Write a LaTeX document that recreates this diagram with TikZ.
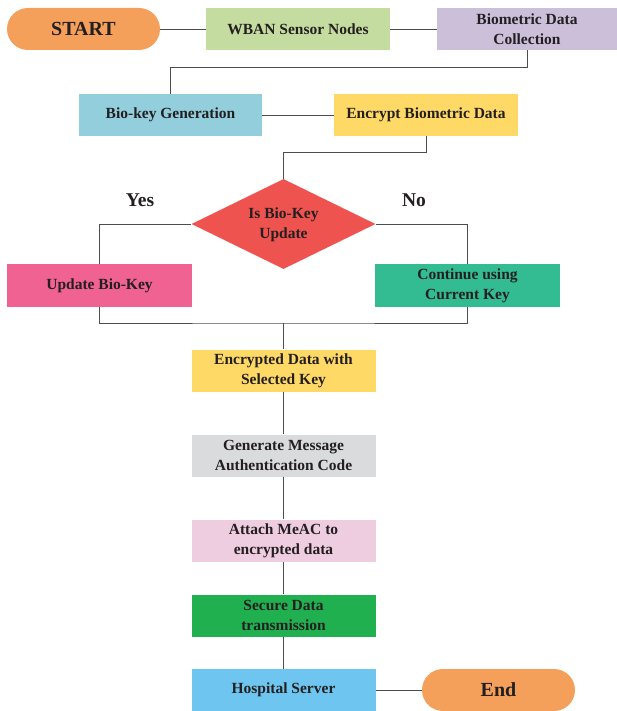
\documentclass[tikz,border=0pt]{standalone}
\usepackage{fontspec}
\setmainfont{Liberation Serif}
\usetikzlibrary{shapes.geometric}
\definecolor{txt}{HTML}{231F20}
\definecolor{ln}{HTML}{4D4D4D}
\definecolor{corange}{HTML}{F4A05A}
\definecolor{cgreenl}{HTML}{C5DCA0}
\definecolor{clav}{HTML}{CBBFDA}
\definecolor{cblue}{HTML}{93CEDD}
\definecolor{cyellow}{HTML}{FFD966}
\definecolor{cred}{HTML}{EF5350}
\definecolor{cpink}{HTML}{F06292}
\definecolor{cteal}{HTML}{33BB91}
\definecolor{cgray}{HTML}{DADBDD}
\definecolor{cpinkl}{HTML}{EFCDE1}
\definecolor{cgreen}{HTML}{20B050}
\definecolor{csky}{HTML}{6EC6F0}
\begin{document}
\begin{tikzpicture}[x=1pt,y=-1pt,
  box/.style={rectangle, draw=none, inner sep=0pt, minimum height=42pt, minimum width=184pt,
    align=center, text=txt, font=\fontsize{15.5}{20}\selectfont\bfseries},
  pill/.style={rectangle, rounded corners=21pt, fill=corange, inner sep=0pt, minimum height=42pt,
    minimum width=153pt, text=txt, font=\fontsize{20}{24}\selectfont\bfseries},
  lbl/.style={text=txt, font=\fontsize{19.5}{24}\selectfont\bfseries},
  conn/.style={draw=ln, line width=0.9pt}]
\useasboundingbox (0,0) rectangle (617,711);
% nodes
\node[pill] (start) at (83.5,29) {START};
\node[box, fill=cgreenl] (wban) at (298,29) {WBAN Sensor Nodes};
\node[box, fill=clav, minimum width=180pt] (bdc) at (527,29) {Biometric Data\\Collection};
\node[box, fill=cblue, minimum width=183pt] (bkg) at (170.5,115) {Bio-key Generation};
\node[box, fill=cyellow] (enc) at (426,115) {\raisebox{4pt}{Encrypt Biometric Data}};
\node[diamond, shape aspect=2.04, fill=cred, inner sep=0pt, minimum width=184pt, minimum height=90pt,
  align=center, text=txt, font=\fontsize{15.5}{20}\selectfont\bfseries] (dia) at (283.5,224) {\raisebox{-3pt}{\begin{tabular}{@{}c@{}}Is Bio-Key\\Update\end{tabular}}};
\node[box, fill=cpink, minimum width=185pt, minimum height=43pt] (upd) at (99.5,285.5) {Update Bio-Key};
\node[box, fill=cteal, minimum width=185pt, minimum height=43pt] (cont) at (467.5,285.5) {Continue using\\Current Key};
\node[box, fill=cyellow] (eds) at (283.5,370.5) {Encrypted Data with\\Selected Key};
\node[box, fill=cgray] (gmac) at (283.5,455.5) {Generate Message\\Authentication Code};
\node[box, fill=cpinkl] (att) at (283.5,540.5) {Attach MeAC to\\encrypted data};
\node[box, fill=cgreen] (sec) at (283.5,615.5) {Secure Data\\transmission};
\node[box, fill=csky] (hos) at (283.5,690) {Hospital Server};
\node[pill] (end) at (498.5,690) {End};
\node[lbl] (yes) at (140,200) {Yes};
\node[lbl] (no) at (414,200) {No};
\coordinate (j) at (283.5,323);
% connectors
\draw[conn] (start.east) -- (wban.west);
\draw[conn] (wban.east) -- (bdc.west);
\draw[conn] (bdc.south) -- ++(0,17) -| (bkg.north);
\draw[conn] (bkg.east) -- (enc.west);
\draw[conn] (enc.south) -- ++(0,16) -| (dia.north);
\draw[conn] (dia.west) -| (upd.north);
\draw[conn] (dia.east) -| (cont.north);
\draw[conn] (upd.south) |- (j) -| (cont.south);
\draw[conn] (j) -- (eds.north);
\draw[conn] (eds.south) -- (gmac.north);
\draw[conn] (gmac.south) -- (att.north);
\draw[conn] (att.south) -- (sec.north);
\draw[conn] (sec.south) -- (hos.north);
\draw[conn] (hos.east) -- (end.west);
\end{tikzpicture}
\end{document}
